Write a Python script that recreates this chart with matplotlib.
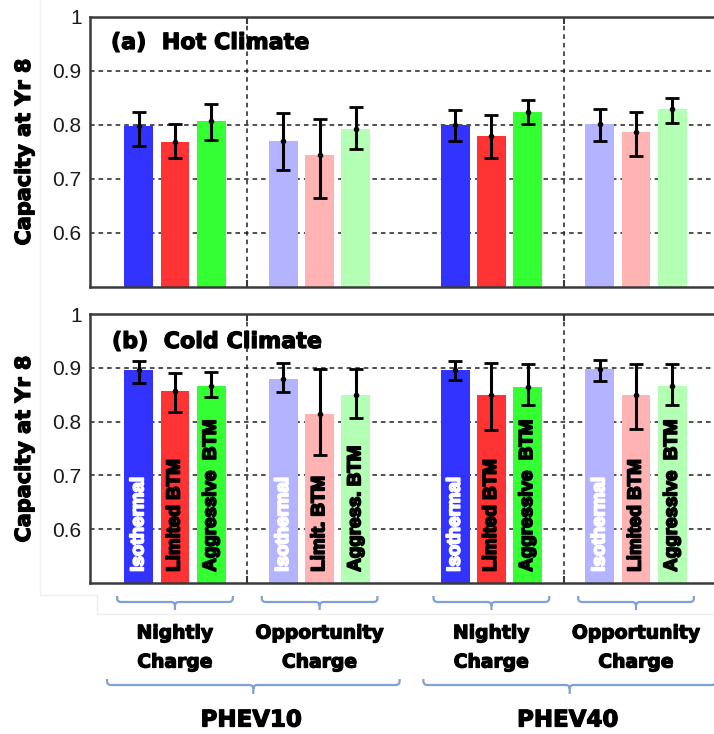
import matplotlib
matplotlib.use("Agg")
import matplotlib.pyplot as plt
import matplotlib.patheffects as pe
import numpy as np
from matplotlib.path import Path
from matplotlib.patches import PathPatch

plt.rcParams['font.family'] = ['Liberation Sans', 'DejaVu Sans']

# ---- data -------------------------------------------------------------
vehicles = ["PHEV10", "PHEV40"]
charges = [["Nightly", "Charge"], ["Opportunity", "Charge"]]
strategies = ["Isothermal", "Limited BTM", "Aggressive BTM"]

# Bar labels shown inside the cold-climate bars (per group)
bar_labels = [
    ["Isothermal", "Limited BTM", "Aggressive  BTM"],
    ["Isothermal", "Limit. BTM", "Aggress. BTM"],
    ["Isothermal", "Limited BTM", "Aggressive  BTM"],
    ["Isothermal", "Limited BTM", "Aggressive  BTM"],
]

# Capacity at year 8: groups = PHEV10 nightly, PHEV10 opportunity,
# PHEV40 nightly, PHEV40 opportunity; 3 strategies each
hot_mean = [0.799, 0.768, 0.808, 0.770, 0.744, 0.792,
            0.800, 0.779, 0.824, 0.802, 0.787, 0.829]
hot_hi = [0.824, 0.801, 0.838, 0.822, 0.811, 0.833,
          0.828, 0.819, 0.846, 0.830, 0.824, 0.850]
hot_lo = [0.761, 0.738, 0.773, 0.717, 0.664, 0.755,
          0.770, 0.739, 0.801, 0.771, 0.742, 0.803]

cold_mean = [0.895, 0.857, 0.867, 0.879, 0.814, 0.849,
             0.895, 0.849, 0.865, 0.898, 0.849, 0.867]
cold_hi = [0.912, 0.891, 0.893, 0.909, 0.897, 0.898,
           0.912, 0.908, 0.907, 0.914, 0.907, 0.907]
cold_lo = [0.871, 0.818, 0.846, 0.855, 0.738, 0.807,
           0.878, 0.785, 0.830, 0.876, 0.787, 0.830]

group_centers = [2.0, 6.0, 10.75, 14.75]
separators = [4.0, 12.75]

dark = ['#3333ff', '#ff3333', '#33ff33']
light = ['#b3b3ff', '#ffb3b3', '#b3ffb3']
group_colors = [dark, light, dark, light]
label_colors = ['white', 'black', 'black']

W, H = 714, 734
fig = plt.figure(figsize=(W / 100, H / 100), dpi=100)


def fig_rect(x0, y_top, x1, y_bot):
    return [x0 / W, 1 - y_bot / H, (x1 - x0) / W, (y_bot - y_top) / H]


ax_hot = fig.add_axes(fig_rect(90, 17, 721, 287))
ax_cold = fig.add_axes(fig_rect(90, 314, 721, 583))

# full-figure overlay in pixel units (y downwards) for annotations
over = fig.add_axes([0, 0, 1, 1], zorder=10)
over.set_xlim(0, W)
over.set_ylim(H, 0)
over.axis('off')

# faint frame lines of the surrounding canvas
frame_c = '#efefef'
over.plot([40, 40], [0, 595], color=frame_c, lw=1)
over.plot([40, 97], [595, 595], color=frame_c, lw=1)
over.plot([97, 97], [595, 614], color=frame_c, lw=1)
over.plot([97, W], [614, 614], color=frame_c, lw=1)

x_pos = np.concatenate([[c - 1, c, c + 1] for c in group_centers])
bar_colors = [c for grp in group_colors for c in grp]

spine_c = '#3a3a3a'
grid_kw = dict(color='#202020', linewidth=1.1, linestyle=(0, (3, 2.6)))


def draw_panel(ax, mean, lo, hi):
    mean = np.array(mean)
    lo = np.array(lo)
    hi = np.array(hi)
    ax.bar(x_pos, mean - 0.5, bottom=0.5, width=0.8, color=bar_colors,
           linewidth=0, zorder=2)
    ax.errorbar(x_pos, mean, yerr=[mean - lo, hi - mean], fmt='o',
                color='black', markersize=3, elinewidth=2.2, capsize=5,
                capthick=2, zorder=3)
    ax.set_xlim(-0.35, 17.1)
    ax.set_ylim(0.5, 1.0)
    ax.set_yticks([0.6, 0.7, 0.8, 0.9, 1.0])
    ax.set_yticklabels(['0.6', '0.7', '0.8', '0.9', '1'],
                       family='Liberation Sans')
    ax.set_xticks(separators)
    ax.set_xticklabels([])
    for y in [0.6, 0.7, 0.8, 0.9]:
        ax.axhline(y, zorder=1, **grid_kw)
    for x in separators:
        ax.axvline(x, zorder=1, **grid_kw)
    ax.tick_params(axis='both', direction='in', length=5, width=1.5,
                   color=spine_c, top=True, right=True)
    ax.tick_params(axis='y', labelsize=15, pad=6, labelcolor='#1a1a1a',
                   length=0)
    for s in ax.spines.values():
        s.set_color(spine_c)
        s.set_linewidth(1.8)
    return ax


draw_panel(ax_hot, hot_mean, hot_lo, hot_hi)
draw_panel(ax_cold, cold_mean, cold_lo, cold_hi)

heavy = [pe.withStroke(linewidth=0.9, foreground='black')]

# panel titles and axis labels
over.text(111, 43, '(a)  Hot Climate', ha='left', va='center', fontsize=16,
          fontweight='bold', family='DejaVu Sans', path_effects=heavy)
over.text(112, 342, '(b)  Cold Climate', ha='left', va='center', fontsize=16,
          fontweight='bold', family='DejaVu Sans', path_effects=heavy)
for yc in [152, 449]:
    over.text(24, yc, 'Capacity at Yr 8', rotation=90, ha='center',
              va='center', fontsize=15, fontweight='bold',
              family='DejaVu Sans', path_effects=heavy)

# strategy names inside the cold-climate bars
for gi, c in enumerate(group_centers):
    for k in range(3):
        ax_cold.text(c - 1 + k, 0.521, bar_labels[gi][k], rotation=90,
                     ha='center', va='bottom', fontsize=13.5,
                     fontweight='bold', family='Liberation Sans',
                     color=label_colors[k], zorder=4,
                     path_effects=[pe.withStroke(
                         linewidth=1.3, foreground=label_colors[k])])

# braces below the axes
brace_c = '#7fa1d3'
pix = ax_cold.transData.transform


def to_px(xd):
    return pix((xd, 0.5))[0]


def brace(x0, x1, xt, y_top, y_flat, y_tip, r=4):
    verts = [(x0, y_top), (x0, y_flat - r), (x0, y_flat), (x0 + r, y_flat),
             (xt - r, y_flat), (xt, y_flat), (xt, y_flat + r), (xt, y_tip),
             (xt, y_flat + r), (xt, y_flat), (xt + r, y_flat),
             (x1 - r, y_flat), (x1, y_flat), (x1, y_flat - r), (x1, y_top)]
    codes = [Path.MOVETO, Path.LINETO, Path.CURVE3, Path.CURVE3,
             Path.LINETO, Path.CURVE3, Path.CURVE3, Path.LINETO,
             Path.MOVETO, Path.CURVE3, Path.CURVE3,
             Path.LINETO, Path.CURVE3, Path.CURVE3, Path.LINETO]
    over.add_patch(PathPatch(Path(verts, codes), facecolor='none',
                             edgecolor=brace_c, lw=1.6, clip_on=False))


for gi, c in enumerate(group_centers):
    xc = to_px(c)
    brace(to_px(c - 1.6), to_px(c + 1.6), xc, 596, 602, 610)
    over.text(xc, 633, charges[gi % 2][0], ha='center', va='center',
              fontsize=13.5, fontweight='bold', family='DejaVu Sans',
              path_effects=heavy)
    over.text(xc, 662, charges[gi % 2][1], ha='center', va='center',
              fontsize=13.5, fontweight='bold', family='DejaVu Sans',
              path_effects=heavy)

for vi, name in enumerate(vehicles):
    c1, c2 = group_centers[2 * vi], group_centers[2 * vi + 1]
    left = to_px(c1 - 1.88)
    tip = (to_px(c1) + to_px(c2)) / 2 + 6
    right = 2 * tip - left
    brace(left, right, tip, 679, 685, 694)
    over.text(tip - 2, 720, name, ha='center', va='center', fontsize=16.5,
              fontweight='bold', family='DejaVu Sans', path_effects=heavy)

fig.savefig('out.png', dpi=100)
